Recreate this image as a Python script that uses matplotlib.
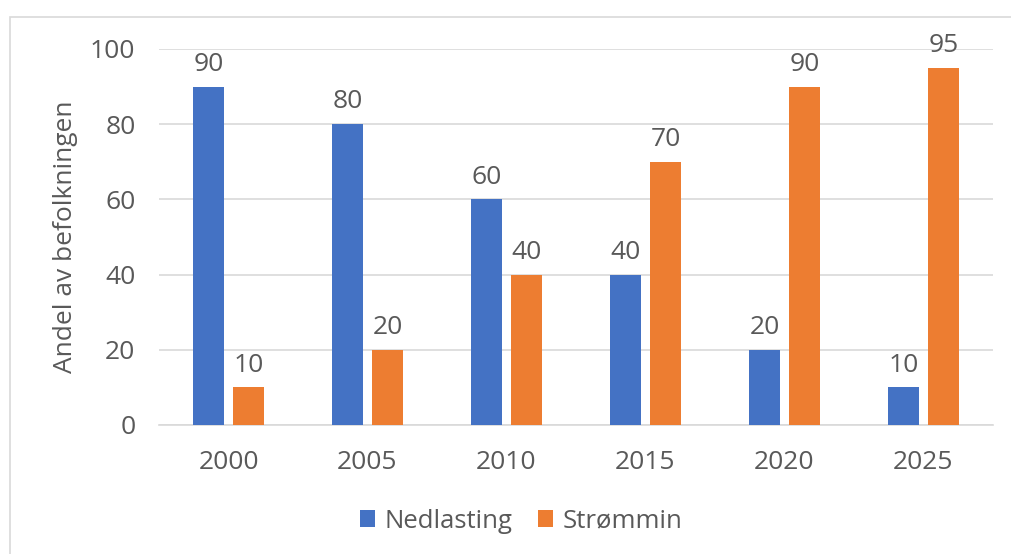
import matplotlib.pyplot as plt
from matplotlib.patches import Rectangle
import numpy as np

years = ["2000", "2005", "2010", "2015", "2020", "2025"]
nedlasting = [90, 80, 60, 40, 20, 10]
strommin = [10, 20, 40, 70, 90, 95]

plt.rcParams["font.family"] = ["Open Sans", "DejaVu Sans"]
txt = "#595959"
blue = "#4472C4"
orange = "#ED7D31"
fs = 19

fig = plt.figure(figsize=(10.12, 5.54), dpi=100)
# outer chart border
fig.patches.append(Rectangle((10 / 1012, -0.1), 1.2, 1 - 17 / 554 + 0.1,
                             transform=fig.transFigure, fill=False,
                             edgecolor="#D9D9D9", linewidth=1.2))
ax = fig.add_axes([159 / 1012, 1 - 425 / 554, (993 - 159) / 1012, (425 - 49) / 554])

x = np.arange(len(years))
w = 0.223
off = 0.144
b1 = ax.bar(x - off, nedlasting, w, color=blue, label="Nedlasting", zorder=3)
b2 = ax.bar(x + off, strommin, w, color=orange, label="Strømmin", zorder=3)

for bars, vals in ((b1, nedlasting), (b2, strommin)):
    for r, v in zip(bars, vals):
        ax.annotate(str(v), (r.get_x() + r.get_width() / 2, v),
                    xytext=(0, 7), textcoords="offset points",
                    ha="center", va="bottom", fontsize=fs, color=txt)

ax.set_xlim(-0.5, 5.5)
ax.set_ylim(0, 100)
ax.set_yticks(range(0, 101, 20))
ax.set_xticks(x)
ax.set_xticklabels(years)
ax.tick_params(length=0, labelsize=fs, labelcolor=txt)
ax.tick_params(axis="x", pad=18)
ax.tick_params(axis="y", pad=17)
ax.grid(axis="y", color="#D9D9D9", linewidth=1.2, zorder=0)
for s in ("top", "right", "left"):
    ax.spines[s].set_visible(False)
ax.spines["bottom"].set_color("#D9D9D9")
ax.spines["bottom"].set_linewidth(1.2)
ax.set_ylabel("Andel av befolkningen", fontsize=fs, color=txt, labelpad=9)

ax.legend(loc="center", bbox_to_anchor=(521 / 1012, 1 - 521 / 554),
          bbox_transform=fig.transFigure, ncol=2, frameon=False,
          fontsize=18.5, labelcolor=txt, handlelength=0.6, handleheight=0.6,
          columnspacing=1.0, handletextpad=0.35)

fig.savefig("out.png", dpi=100)
